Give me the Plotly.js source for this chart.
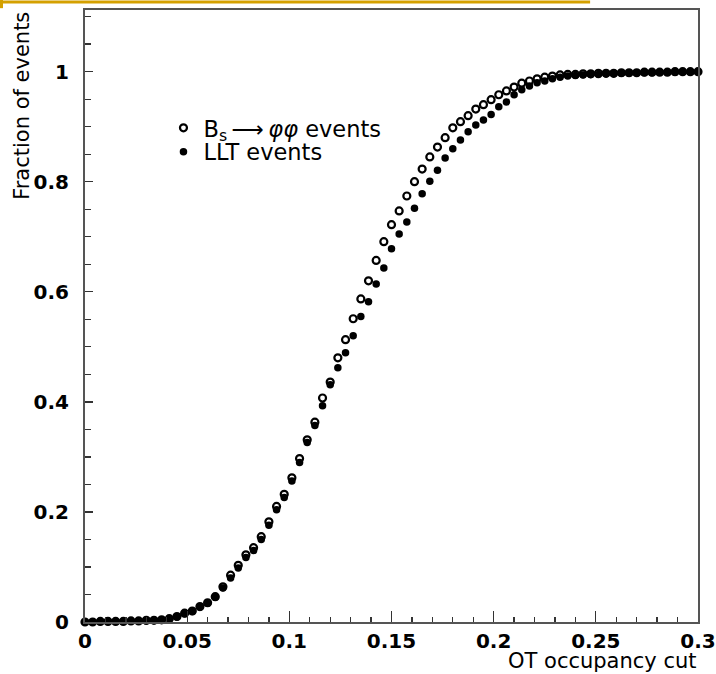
<!DOCTYPE html>
<html>
<head>
<meta charset="utf-8">
<script src="https://cdn.plot.ly/plotly-3.0.1.min.js"></script>
<style>html,body{margin:0;padding:0;background:#fff;}#chart{width:716px;height:674px;}</style>
</head>
<body>
<div id="chart"></div>
<script>
// OT occupancy cut values (x)
var occupancyCut = [0,0.00375,0.0075,0.01125,0.015,0.01875,0.0225,0.02625,0.03,0.03375,
0.0375,0.04125,0.045,0.04875,0.0525,0.05625,0.06,0.06375,0.0675,0.07125,
0.075,0.07875,0.0825,0.08625,0.09,0.09375,0.0975,0.10125,0.105,0.10875,
0.1125,0.11625,0.12,0.12375,0.1275,0.13125,0.135,0.13875,0.1425,0.14625,
0.15,0.15375,0.1575,0.16125,0.165,0.16875,0.1725,0.17625,0.18,0.18375,
0.1875,0.19125,0.195,0.19875,0.2025,0.20625,0.21,0.21375,0.2175,0.22125,
0.225,0.22875,0.2325,0.23625,0.24,0.24375,0.2475,0.25125,0.255,0.25875,
0.2625,0.26625,0.27,0.27375,0.2775,0.28125,0.285,0.28875,0.2925,0.29625,0.3];

// Fraction of Bs -> phi phi events (open circles)
var bsPhiPhi = [0.000,0.000,0.001,0.001,0.001,0.001,0.002,0.002,0.003,0.003,
0.004,0.006,0.010,0.016,0.020,0.028,0.035,0.046,0.064,0.085,
0.103,0.122,0.135,0.155,0.182,0.210,0.232,0.262,0.297,0.331,
0.363,0.407,0.436,0.480,0.513,0.551,0.587,0.620,0.657,0.691,
0.722,0.747,0.774,0.800,0.823,0.845,0.863,0.880,0.898,0.909,
0.920,0.932,0.940,0.949,0.958,0.965,0.972,0.979,0.983,0.987,
0.990,0.992,0.994,0.995,0.995,0.996,0.996,0.997,0.997,0.997,
0.998,0.998,0.998,0.999,0.999,0.999,0.999,1.000,1.000,1.000,1.000];

// Fraction of LLT events (filled circles)
var lltEvents = [0.000,0.000,0.001,0.001,0.001,0.001,0.002,0.002,0.002,0.003,
0.004,0.006,0.009,0.015,0.019,0.027,0.034,0.045,0.062,0.080,
0.098,0.117,0.130,0.150,0.176,0.204,0.226,0.256,0.290,0.326,
0.357,0.393,0.431,0.462,0.489,0.520,0.555,0.582,0.614,0.643,
0.678,0.705,0.727,0.752,0.778,0.801,0.821,0.843,0.860,0.876,
0.891,0.903,0.912,0.922,0.936,0.945,0.958,0.967,0.974,0.980,
0.983,0.987,0.990,0.992,0.993,0.994,0.995,0.995,0.996,0.996,
0.997,0.997,0.998,0.998,0.998,0.999,0.999,0.999,1.000,1.000,1.000];

var seriesNames = ['B<sub>s</sub>\u2009⟶\u2009<i>φφ</i> events', 'LLT events'];
var xTitle = 'OT occupancy cut';
var yTitle = 'Fraction of events';

var tickFont = {family: 'DejaVu Sans', size: 20, color: '#000', weight: 'bold'};
var titleFont = {family: 'DejaVu Sans', size: 21, color: '#000'};
var legendFont = {family: 'DejaVu Sans', size: 22.5, color: '#000'};

var traces = [
  {
    x: occupancyCut, y: lltEvents, name: seriesNames[1], legend: 'legend2',
    type: 'scatter', mode: 'markers', cliponaxis: false,
    marker: {symbol: 'circle', size: 7.5, color: '#000', line: {width: 0}}
  },
  {
    x: occupancyCut, y: bsPhiPhi, name: seriesNames[0], legend: 'legend',
    type: 'scatter', mode: 'markers', cliponaxis: false,
    marker: {symbol: 'circle-open', size: 7, color: '#000', line: {width: 2.2, color: '#000'}}
  }
];

var layout = {
  width: 716, height: 674,
  margin: {l: 85, r: 18, t: 10, b: 52, pad: 0},
  paper_bgcolor: '#fff', plot_bgcolor: '#fff',
  showlegend: true,
  legend: {
    x: 0.128, y: 0.842, xanchor: 'left', yanchor: 'top',
    bgcolor: 'rgba(0,0,0,0)', font: legendFont, itemwidth: 30
  },
  legend2: {
    x: 0.128, y: 0.803, xanchor: 'left', yanchor: 'top',
    bgcolor: 'rgba(0,0,0,0)', font: legendFont, itemwidth: 30
  },
  xaxis: {
    range: [0, 0.3], tickmode: 'linear', tick0: 0, dtick: 0.05,
    ticks: 'inside', ticklen: 11, tickwidth: 1.3, tickcolor: '#333',
    minor: {tickmode: 'linear', tick0: 0, dtick: 0.01, ticks: 'inside', ticklen: 5, tickwidth: 1.3, tickcolor: '#333', showgrid: false},
    showline: true, linecolor: '#555', linewidth: 2, mirror: true,
    showgrid: false, zeroline: false, tickfont: tickFont, ticklabelstandoff: 0
  },
  yaxis: {
    range: [0, 1.112], tickmode: 'linear', tick0: 0, dtick: 0.2,
    ticks: 'inside', ticklen: 8, tickwidth: 1.3, tickcolor: '#333',
    minor: {tickmode: 'linear', tick0: 0, dtick: 0.05, ticks: 'inside', ticklen: 6, tickwidth: 1.3, tickcolor: '#333', showgrid: false},
    showline: true, linecolor: '#555', linewidth: 2, mirror: true,
    showgrid: false, zeroline: false, tickfont: tickFont, ticklabelstandoff: 10
  },
  annotations: [
    {text: xTitle, xref: 'paper', yref: 'paper', x: 1, y: -0.0844, xanchor: 'right', yanchor: 'bottom', showarrow: false, font: titleFont, borderpad: 0},
    {text: yTitle, xref: 'paper', yref: 'paper', x: -0.103, y: 1, xanchor: 'center', yanchor: 'top', textangle: -90, showarrow: false, font: titleFont}
  ],
  shapes: [
    {type: 'line', xref: 'paper', yref: 'paper', x0: -0.1387, x1: 0.824, y0: 1.0131, y1: 1.0131, line: {color: '#d4a000', width: 3}},
    {type: 'line', xref: 'paper', yref: 'paper', x0: -0.1362, x1: -0.1362, y0: 1.0163, y1: 1.003, line: {color: '#d4a000', width: 3}}
  ]
};

Plotly.newPlot('chart', traces, layout, {displayModeBar: false, staticPlot: true});
</script>
</body>
</html>
